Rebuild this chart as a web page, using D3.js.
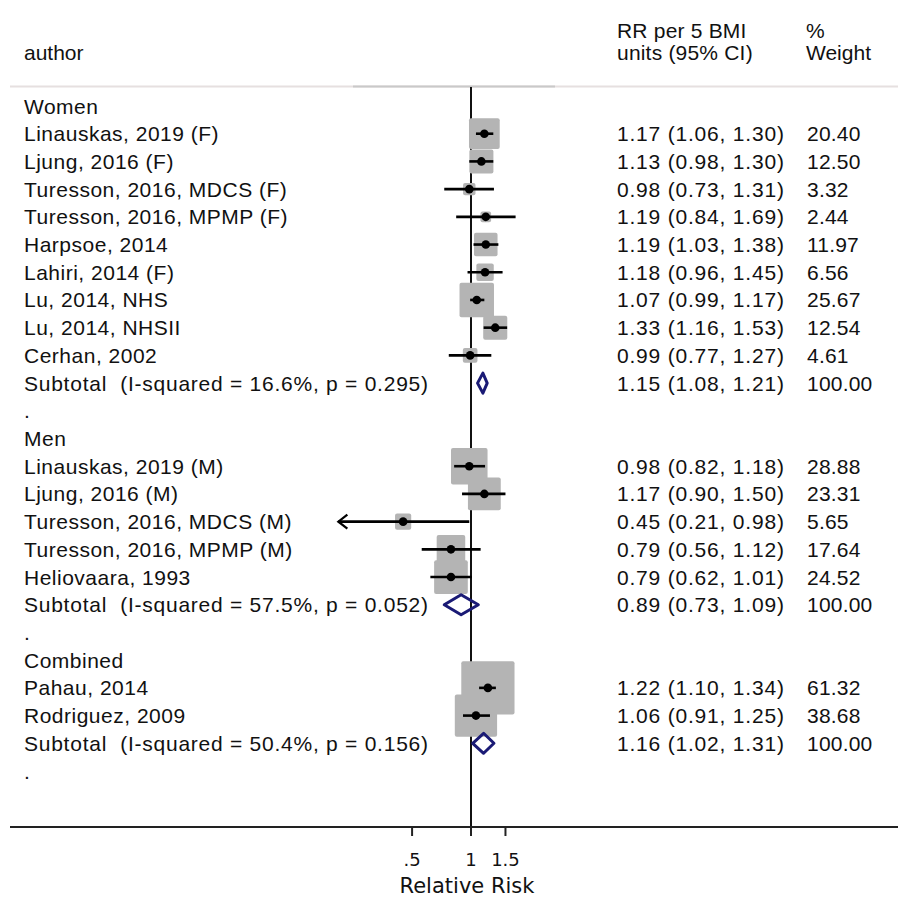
<!DOCTYPE html>
<html><head><meta charset="utf-8">
<script src="https://cdn.jsdelivr.net/npm/d3@7/dist/d3.min.js"></script>
<style>body{margin:0;background:#fff} text{white-space:pre}</style>
</head><body>
<svg id="c" width="898" height="898"></svg>
<script>
// ---- data ----
const groupNames = ["Women", "Men", "Combined"];
const studyLabels = [
  "Linauskas, 2019 (F)", "Ljung, 2016 (F)", "Turesson, 2016, MDCS (F)", "Turesson, 2016, MPMP (F)",
  "Harpsoe, 2014", "Lahiri, 2014 (F)", "Lu, 2014, NHS", "Lu, 2014, NHSII", "Cerhan, 2002",
  "Linauskas, 2019 (M)", "Ljung, 2016 (M)", "Turesson, 2016, MDCS (M)", "Turesson, 2016, MPMP (M)", "Heliovaara, 1993",
  "Pahau, 2014", "Rodriguez, 2009"
];
const studyGroup = [0,0,0,0,0,0,0,0,0, 1,1,1,1,1, 2,2];
const studyRR  = [1.17,1.13,0.98,1.19,1.19,1.18,1.07,1.33,0.99, 0.98,1.17,0.45,0.79,0.79, 1.22,1.06];
const studyLo  = [1.06,0.98,0.73,0.84,1.03,0.96,0.99,1.16,0.77, 0.82,0.90,0.21,0.56,0.62, 1.10,0.91];
const studyHi  = [1.30,1.30,1.31,1.69,1.38,1.45,1.17,1.53,1.27, 1.18,1.50,0.98,1.12,1.01, 1.34,1.25];
const studyW   = [20.40,12.50,3.32,2.44,11.97,6.56,25.67,12.54,4.61, 28.88,23.31,5.65,17.64,24.52, 61.32,38.68];
const subLabels = ["Subtotal  (I-squared = 16.6%, p = 0.295)", "Subtotal  (I-squared = 57.5%, p = 0.052)", "Subtotal  (I-squared = 50.4%, p = 0.156)"];
const subRR = [1.15, 0.89, 1.16];
const subLo = [1.08, 0.73, 1.02];
const subHi = [1.21, 1.09, 1.31];
const subW  = [100.00, 100.00, 100.00];
const xTicks = [0.5, 1, 1.5];
const xTickLabels = [".5", "1", "1.5"];

const fmt = d3.format(".2f");

// ---- build rows ----
const rows = [];
groupNames.forEach((g, gi) => {
  rows.push({type: "group", label: g});
  studyLabels.forEach((s, i) => {
    if (studyGroup[i] === gi) rows.push({type: "study", label: s, rr: studyRR[i], lo: studyLo[i], hi: studyHi[i], w: studyW[i]});
  });
  rows.push({type: "sub", label: subLabels[gi], rr: subRR[gi], lo: subLo[gi], hi: subHi[gi], w: subW[gi]});
  rows.push({type: "dot", label: "."});
});

const svg = d3.select("#c");
const font = "Liberation Sans, Arial, sans-serif";
const y = d3.scaleLinear().domain([0, rows.length - 1]).range([106, 771]);
const pxPerLn = 85, x1 = 471;
const xMin = 0.21, xMax = 2;
const x = d3.scaleLog().domain([xMin, xMax]).range([x1 + pxPerLn * Math.log(xMin), x1 + pxPerLn * Math.log(xMax)]);
const boxK = 6.8;

// header lines
svg.append("line").attr("x1", 10).attr("x2", 898).attr("y1", 86.5).attr("y2", 86.5).attr("stroke", "#e6e0e0").attr("stroke-width", 2);
svg.append("line").attr("x1", 353).attr("x2", 555).attr("y1", 86.5).attr("y2", 86.5).attr("stroke", "#c9c9c9").attr("stroke-width", 2);

// headers
const hdr = svg.append("g").attr("font-family", font).attr("font-size", 21).attr("fill", "#111");
hdr.append("text").attr("x", 24).attr("y", 60).text("author");
hdr.append("text").attr("x", 617).attr("y", 38).attr("letter-spacing", 0.2).text("RR per 5 BMI");
hdr.append("text").attr("x", 617).attr("y", 60).attr("letter-spacing", 0.2).text("units (95% CI)");
hdr.append("text").attr("x", 806).attr("y", 38).text("%");
hdr.append("text").attr("x", 806).attr("y", 60).text("Weight");

// null line
svg.append("line").attr("x1", x(1)).attr("x2", x(1)).attr("y1", 87).attr("y2", 827).attr("stroke", "#111").attr("stroke-width", 2);

// boxes
const studies = rows.map((r, i) => Object.assign({i}, r)).filter(r => r.type === "study");
svg.append("g").selectAll("rect").data(studies).join("rect")
  .attr("x", d => x(d.rr) - boxK * Math.sqrt(d.w) / 2)
  .attr("y", d => y(d.i) - boxK * Math.sqrt(d.w) / 2)
  .attr("width", d => boxK * Math.sqrt(d.w))
  .attr("height", d => boxK * Math.sqrt(d.w))
  .attr("rx", 2)
  .attr("fill", "#b4b4b4");

// CI lines
svg.append("g").selectAll("line").data(studies).join("line")
  .attr("x1", d => x(Math.max(d.lo, xMin))).attr("x2", d => x(Math.min(d.hi, xMax)))
  .attr("y1", d => y(d.i)).attr("y2", d => y(d.i))
  .attr("stroke", "#000").attr("stroke-width", 2.6);

// arrows for clipped CIs
studies.filter(d => d.lo < xMin + 1e-9).forEach(d => {
  const ax = x(xMin), ay = y(d.i);
  svg.append("path").attr("d", `M${ax + 9},${ay - 7} L${ax},${ay} L${ax + 9},${ay + 7}`)
    .attr("fill", "none").attr("stroke", "#000").attr("stroke-width", 2.2);
});

// points
svg.append("g").selectAll("circle").data(studies).join("circle")
  .attr("cx", d => x(d.rr)).attr("cy", d => y(d.i)).attr("r", 4.3)
  .attr("fill", "#000");

// subtotal diamonds
const subs = rows.map((r, i) => Object.assign({i}, r)).filter(r => r.type === "sub");
svg.append("g").selectAll("path").data(subs).join("path")
  .attr("d", d => {
    const yc = y(d.i), h = 10;
    return `M${x(d.lo)},${yc} L${x(d.rr)},${yc - h} L${x(d.hi)},${yc} L${x(d.rr)},${yc + h} Z`;
  })
  .attr("fill", "none").attr("stroke", "#1a1a75").attr("stroke-width", 3).attr("stroke-linejoin", "round");

// labels
const lab = svg.append("g").attr("font-family", font).attr("font-size", 21).attr("fill", "#111");
rows.forEach((r, i) => {
  lab.append("text").attr("x", 24).attr("y", y(i) + 7.5)
    .attr("letter-spacing", r.type === "sub" ? 0.75 : 0.5).text(r.label);
  if (r.type === "study" || r.type === "sub") {
    lab.append("text").attr("x", 617).attr("y", y(i) + 7.5).attr("letter-spacing", 0.8)
      .text(`${fmt(r.rr)} (${fmt(r.lo)}, ${fmt(r.hi)})`);
    lab.append("text").attr("x", 807).attr("y", y(i) + 7.5).attr("letter-spacing", 0.2).text(fmt(r.w));
  }
});

// x axis
svg.append("line").attr("x1", 10).attr("x2", 898).attr("y1", 827).attr("y2", 827).attr("stroke", "#222").attr("stroke-width", 2.2);
const ax = svg.append("g");
ax.selectAll("line").data(xTicks).join("line")
  .attr("x1", d => x(d)).attr("x2", d => x(d)).attr("y1", 827).attr("y2", 836)
  .attr("stroke", "#222").attr("stroke-width", 2);
ax.selectAll("text").data(xTicks).join("text")
  .attr("x", d => x(d)).attr("y", 866).attr("text-anchor", "middle")
  .attr("font-family", "DejaVu Sans, sans-serif").attr("font-size", 18).attr("fill", "#111")
  .text((d, i) => xTickLabels[i]);
svg.append("text").attr("x", x(1) - 4).attr("y", 893).attr("text-anchor", "middle")
  .attr("font-family", "DejaVu Sans, sans-serif").attr("font-size", 21).attr("fill", "#111")
  .text("Relative Risk");
</script>
</body></html>
